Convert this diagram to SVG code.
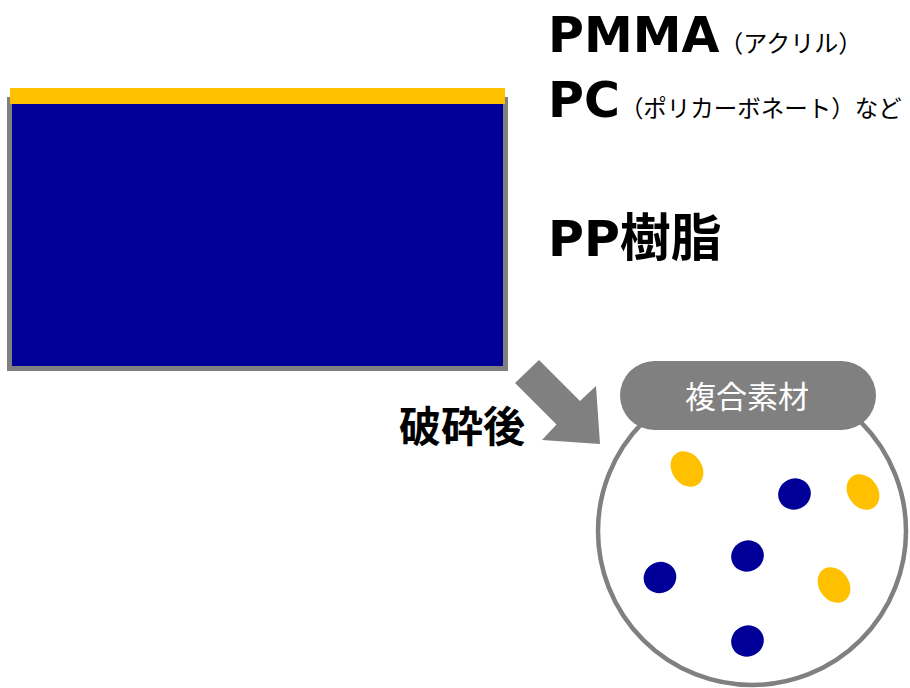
<svg xmlns="http://www.w3.org/2000/svg" width="910" height="688" viewBox="0 0 910 688">
  <style>
    .big { font-family: "DejaVu Sans", "Noto Sans CJK JP", sans-serif; font-weight: bold; fill: #000000; }
    .small { font-family: "Noto Sans CJK JP", sans-serif; font-weight: normal; fill: #000000; }
    .jp { font-family: "Noto Sans CJK JP", sans-serif; }
    .yellow { fill: #FFC000; }
    .blue { fill: #000099; }
    .gray { fill: #808080; }
  </style>
  <rect width="910" height="688" fill="#FFFFFF"/>

  <g id="panel">
    <rect x="9.5" y="99.5" width="496" height="269" fill="#000099" stroke="#808080" stroke-width="5"/>
    <rect x="10" y="88" width="495" height="16" class="yellow"/>
  </g>

  <g id="label-coating">
    <text x="548" y="52" class="big" font-size="49">PMMA<tspan class="small" font-size="24" font-weight="normal">（アクリル）</tspan></text>
    <text x="548" y="117" class="big" font-size="49">PC<tspan class="small" font-size="23.5" font-weight="normal">（ポリカーボネート）など</tspan></text>
  </g>

  <g id="label-base">
    <text x="548" y="256" class="big" font-size="49">PP<tspan font-family="Noto Sans CJK JP, sans-serif" font-size="51">樹脂</tspan></text>
  </g>

  <g id="connectors">
    <polygon class="gray" points="539,360 580,401 596,386 600,444 542,440 556.5,424.5 515,383"/>
    <text x="399" y="442" class="jp" font-size="42" font-weight="bold" fill="#000000">破砕後</text>
  </g>

  <g id="composite">
    <circle cx="752" cy="531" r="154" fill="#FFFFFF" stroke="#808080" stroke-width="4.5"/>
    <rect x="620" y="361" width="256" height="69" rx="34.5" ry="34.5" class="gray"/>
    <text x="747" y="408" class="jp" font-size="31" fill="#FFFFFF" text-anchor="middle">複合素材</text>
    <ellipse cx="687" cy="469" rx="15" ry="19" transform="rotate(-35 687 469)" class="yellow"/>
    <ellipse cx="863" cy="492" rx="15" ry="19" transform="rotate(-35 863 492)" class="yellow"/>
    <ellipse cx="834" cy="585" rx="15" ry="19" transform="rotate(-35 834 585)" class="yellow"/>
    <ellipse cx="794.5" cy="494" rx="16.5" ry="15.5" transform="rotate(-25 794.5 494)" class="blue"/>
    <ellipse cx="747.5" cy="556" rx="16.5" ry="15.5" transform="rotate(-25 747.5 556)" class="blue"/>
    <ellipse cx="660" cy="577.5" rx="16.5" ry="15.5" transform="rotate(-25 660 577.5)" class="blue"/>
    <ellipse cx="747.5" cy="641" rx="16.5" ry="15.5" transform="rotate(-25 747.5 641)" class="blue"/>
  </g>
</svg>
